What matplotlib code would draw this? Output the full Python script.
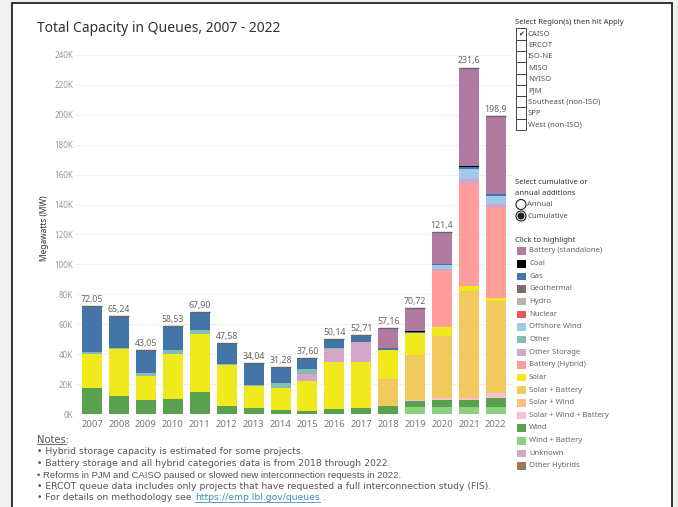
import matplotlib.pyplot as plt
import numpy as np
from matplotlib.lines import Line2D
from matplotlib.patches import Circle, Rectangle
from matplotlib.transforms import IdentityTransform

# ---- data (MW) ----
years = ["2007", "2008", "2009", "2010", "2011", "2012", "2013", "2014",
         "2015", "2016", "2017", "2018", "2019", "2020", "2021", "2022"]
total_labels = ["72,05", "65,24", "43,05", "58,53", "67,90", "47,58", "34,04", "31,28",
                "37,60", "50,14", "52,71", "57,16", "70,72", "121,4", "231,6", "198,9"]
totals = [72050, 65240, 43050, 58530, 67900, 47580, 34040, 31280,
          37600, 50140, 52710, 57160, 70720, 121400, 231600, 198900]

# stack order, bottom first
wind_battery = [0, 0, 0, 0, 0, 0, 0, 0, 0, 0, 0, 0, 4500, 4500, 4900, 4900]
wind = [17400, 11800, 9400, 10000, 14500, 5400, 4200, 2900,
        2200, 3100, 4000, 5600, 4500, 4900, 4500, 5600]
solar_wind_battery = [0, 0, 0, 0, 0, 0, 0, 0, 0, 0, 0, 0, 500, 1100, 1100, 3300]
solar_battery = [0, 0, 0, 0, 0, 0, 0, 0, 0, 0, 0, 17800, 29800, 41700, 71400, 62000]
solar = [22700, 31700, 15800, 30100, 39000, 27400, 14500, 14500,
         19900, 31900, 31000, 19400, 14700, 5800, 3800, 1800]
battery_hybrid = [0, 0, 0, 0, 0, 0, 0, 0, 0, 0, 0, 0, 0, 37900, 68200, 59800]
other_storage = [0, 0, 0, 0, 0, 0, 0, 0, 4700, 8700, 13200, 0, 0, 1300, 3100, 3300]
other = [1600, 700, 2400, 2700, 2700, 500, 400, 3100, 3100, 300, 0, 0, 0, 0, 0, 0]
offshore_wind = [0, 0, 0, 0, 0, 0, 0, 0, 0, 0, 0, 0, 0, 2200, 6700, 5100]
gas = [30350, 21040, 15450, 15730, 11700, 14280, 14940, 10780,
       7700, 6140, 4510, 1000, 900, 600, 1300, 1100]
coal = [0, 0, 0, 0, 0, 0, 0, 0, 0, 0, 0, 400, 400, 400, 500, 400]
battery_standalone = [0, 0, 0, 0, 0, 0, 0, 0, 0, 0, 0, 12960, 15420, 21000, 66100, 51600]

legend_names = ["Battery (standalone)", "Coal", "Gas", "Geothermal", "Hydro", "Nuclear",
                "Offshore Wind", "Other", "Other Storage", "Battery (Hybrid)", "Solar",
                "Solar + Battery", "Solar + Wind", "Solar + Wind + Battery", "Wind",
                "Wind + Battery", "Unknown", "Other Hybrids"]
legend_colors = ["#b07aa1", "#000000", "#4375a8", "#79706e", "#bab0ac", "#e15759",
                 "#a0cbe8", "#86bcb6", "#d4a6c8", "#ff9d9a", "#f0e91b",
                 "#f1c95e", "#ffbe7d", "#fabfd2", "#59a14f",
                 "#8cd17d", "#d4a6c8", "#9d7660"]
color = dict(zip(legend_names, legend_colors))

stack = [
    ("Wind + Battery", wind_battery),
    ("Wind", wind),
    ("Solar + Wind + Battery", solar_wind_battery),
    ("Solar + Battery", solar_battery),
    ("Solar", solar),
    ("Battery (Hybrid)", battery_hybrid),
    ("Other Storage", other_storage),
    ("Other", other),
    ("Offshore Wind", offshore_wind),
    ("Gas", gas),
    ("Coal", coal),
    ("Battery (standalone)", battery_standalone),
]

regions = ["CAISO", "ERCOT", "ISO-NE", "MISO", "NYISO", "PJM",
           "Southeast (non-ISO)", "SPP", "West (non-ISO)"]

W, H = 678, 507
fig = plt.figure(figsize=(W / 100, H / 100), dpi=100)
fig.patch.set_facecolor("#eff1ef")
T = fig.dpi_scale_trans


def P(x, y):
    # pixel (top-left origin) -> inches
    return x / 100, (H - y) / 100


def rect(x, ytop, w, h, **kw):
    return Rectangle((x / 100, (H - ytop - h) / 100), w / 100, h / 100, transform=T, **kw)


# white dashboard panel with dark frame (behind the axes)
fig.add_artist(rect(12, 3, 660, 520, facecolor="white", edgecolor="#222222", lw=1.3,
                    zorder=-10))

# ---- main chart ----
ax_l, ax_r, ax_b, ax_t = 76, 512, 414, 43
ax = fig.add_axes([ax_l / W, (H - ax_b) / H, (ax_r - ax_l) / W, (ax_b - ax_t) / H])
ax.set_facecolor("none")
x = np.arange(len(years))
bottom = np.zeros(len(years))
for name, vals in stack:
    vals = np.array(vals, dtype=float)
    ax.bar(x, vals, bottom=bottom, width=0.74, color=color[name], linewidth=0, zorder=2)
    bottom += vals

ax.hlines(totals, x - 0.37, x + 0.37, color="#666666", lw=1.0, zorder=3)
for xi, tv, lab in zip(x, totals, total_labels):
    ax.annotate(lab, (xi, tv), xytext=(0, 1.5), textcoords="offset points",
                ha="center", va="bottom", fontsize=6.3, color="#666666", family="Noto Sans")

ax.set_xlim(-0.6, 15.6)
ax.set_ylim(0, 248000)
yt = np.arange(0, 240001, 20000)
ax.set_yticks(yt)
ax.set_yticklabels([f"{int(v / 1000)}K" for v in yt], fontsize=5.8, color="#999999",
                   family="Noto Sans")
ax.set_xticks(x)
ax.set_xticklabels(years, fontsize=6.8, color="#777777", family="Noto Sans")
ax.tick_params(axis="x", length=0, pad=4)
ax.tick_params(axis="y", length=0, pad=2)
ax.grid(axis="y", color="#f1f1f1", lw=0.8, zorder=0)
for s in ax.spines.values():
    s.set_visible(False)
ax.set_ylabel("Megawatts (MW)", fontsize=6.0, color="#333333", family="Noto Sans",
              fontweight="semibold", labelpad=4)

fig.text(*P(37, 32), "Total Capacity in Queues, 2007 - 2022", transform=T,
         fontsize=10, color="#333333", family="Noto Sans", va="baseline")

# ---- region filter ----
fig.text(*P(515, 23), "Select Region(s) then hit Apply", transform=T, fontsize=5.5,
         color="#333333", family="Noto Sans", va="center")
for i, r in enumerate(regions):
    yt_ = 28.3 + i * 11.3
    fig.add_artist(rect(516, yt_, 10, 11.3, facecolor="white", edgecolor="#444444", lw=0.7))
    fig.text(*P(528, yt_ + 5.8), r, transform=T, fontsize=5.5, color="#555555",
             family="Noto Sans", va="center")
fig.text(*P(521, 34), "\u2714", transform=T, fontsize=5, color="#222222",
         family="DejaVu Sans", ha="center", va="center")

# ---- cumulative / annual ----
fig.text(*P(515, 182.5), "Select cumulative or", transform=T, fontsize=5.5,
         color="#333333", family="Noto Sans", va="center")
fig.text(*P(515, 193.5), "annual additions", transform=T, fontsize=5.5,
         color="#333333", family="Noto Sans", va="center")
for yy, lab, on in [(204.5, "Annual", False), (216, "Cumulative", True)]:
    cx, cy = P(521, yy)
    fig.add_artist(Circle((cx, cy), 0.05, transform=T, facecolor="white",
                          edgecolor="#222222", lw=0.8))
    if on:
        fig.add_artist(Circle((cx, cy), 0.035, transform=T, facecolor="#222222",
                              edgecolor="none"))
    fig.text(*P(527, yy), lab, transform=T, fontsize=5.5, color="#555555",
             family="Noto Sans", va="center")

# ---- colour legend ----
fig.text(*P(515, 240), "Click to highlight", transform=T, fontsize=5.5,
         color="#333333", family="Noto Sans", va="center")
for i, (name, c) in enumerate(zip(legend_names, legend_colors)):
    yy = 251 + i * 12.64
    fig.add_artist(rect(516.5, yy - 3.6, 9, 7.5, facecolor=c, edgecolor="none"))
    fig.text(*P(529, yy), name, transform=T, fontsize=5.5, color="#666666",
             family="Noto Sans", va="center")

# ---- notes ----
notes = [
    "\u2022 Hybrid storage capacity is estimated for some projects.",
    "\u2022 Battery storage and all hybrid categories data is from 2018 through 2022.",
    "\u2022 Reforms in PJM and CAISO paused or slowed new interconnection requests in 2022.",
    "\u2022 ERCOT queue data includes only projects that have requested a full interconnection study (FIS).",
]
note_font = ["DejaVu Sans", "DejaVu Sans", "Liberation Sans", "DejaVu Sans"]
note_size = [6.7, 6.7, 6.8, 6.7]
nt = fig.text(*P(37, 440), "Notes:", transform=T, fontsize=7.2, color="#555555",
              family="DejaVu Sans", va="center")
for i, (line, fam, fs) in enumerate(zip(notes, note_font, note_size)):
    fig.text(*P(37, 452 + i * 11.5), line, transform=T, fontsize=fs, color="#555555",
             family=fam, va="center")
last = fig.text(*P(37, 498), "\u2022 For details on methodology see ", transform=T,
                fontsize=6.7, color="#555555", family="DejaVu Sans", va="center")

renderer = fig.canvas.get_renderer()
bb = nt.get_window_extent(renderer)
fig.add_artist(Line2D([bb.x0, bb.x1 - 3], [bb.y0 + 1, bb.y0 + 1], color="#555555", lw=0.6,
                      transform=IdentityTransform()))
bb = last.get_window_extent(renderer)
link = fig.text(bb.x1, (bb.y0 + bb.y1) / 2, "https://emp.lbl.gov/queues",
                transform=IdentityTransform(), fontsize=6.7, color="#3f8fbf",
                family="DejaVu Sans", va="center")
lb = link.get_window_extent(renderer)
fig.add_artist(Line2D([lb.x0, lb.x1], [lb.y0 + 1, lb.y0 + 1], color="#3f8fbf", lw=0.6,
                      transform=IdentityTransform()))
fig.text(lb.x1 + 3, (lb.y0 + lb.y1) / 2, ".", transform=IdentityTransform(),
         fontsize=6.7, color="#555555", family="DejaVu Sans", va="center")

fig.savefig("out.png", dpi=100, facecolor=fig.get_facecolor())
